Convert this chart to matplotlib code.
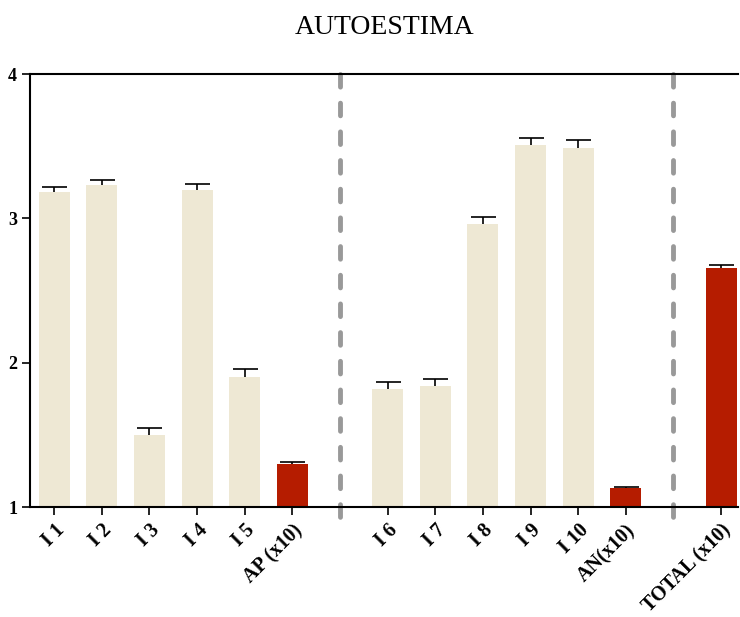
import matplotlib.pyplot as plt
import matplotlib.transforms as mtransforms
import numpy as np

labels = ["I 1", "I 2", "I 3", "I 4", "I 5", "AP (x10)",
          "I 6", "I 7", "I 8", "I 9", "I 10", "AN(x10)",
          "TOTAL (x10)"]
means = [3.18, 3.23, 1.50, 3.20, 1.90, 1.30,
         1.82, 1.84, 2.96, 3.51, 3.49, 1.13,
         2.66]
errs = [0.04, 0.035, 0.045, 0.04, 0.055, 0.01,
        0.05, 0.05, 0.05, 0.05, 0.05, 0.01,
        0.015]
positions = [0, 1, 2, 3, 4, 5, 7, 8, 9, 10, 11, 12, 14]
separators = [6, 13]

cream = "#EEE8D4"
red = "#B51C00"
colors = [red if "x10" in l else cream for l in labels]

plt.rcParams['font.family'] = ['Liberation Serif', 'DejaVu Serif']

fig = plt.figure(figsize=(7.4, 6.17), dpi=100)
ax = fig.add_axes([0.041, 0.178, 0.956, 0.702])

base = 1
heights = np.array(means) - base
ax.bar(positions, heights, bottom=base, width=0.65, color=colors, zorder=2)
# upper error bars only: hide the lower cap
eb = ax.errorbar(positions, means, yerr=[np.zeros(len(errs)), errs], fmt='none',
                 ecolor='black', elinewidth=1.2, capsize=9, capthick=1.2, zorder=3)
eb[1][0].set_visible(False)

# dashed group separators, running a little past the bottom spine
for s in separators:
    ax.plot([s, s], [4, 0.86], color='#999999', lw=3.5, ls=(0, (2.6, 3.3)),
            dash_capstyle='round', zorder=1, clip_on=False)

ax.set_xlim(-0.5, 14.35)
ax.set_ylim(1, 4)
ax.set_yticks([1, 2, 3, 4])
ax.set_yticklabels(["1", "2", "3", "4"], fontsize=13, fontweight='bold')
ax.set_xticks(positions)
ax.set_xticklabels(labels, rotation=45, ha='right', rotation_mode='anchor',
                   fontsize=14.5, fontweight='bold')
shift = mtransforms.ScaledTranslation(-4 / 72, -2 / 72, fig.dpi_scale_trans)
for t in ax.get_xticklabels():
    t.set_transform(t.get_transform() + shift)
ax.tick_params(axis='both', length=6, width=1.2, direction='out')

ax.spines['right'].set_visible(False)
for sp in ['left', 'bottom', 'top']:
    ax.spines[sp].set_linewidth(1.5)

fig.text(0.52, 0.955, "AUTOESTIMA", ha='center', va='center', fontsize=20)

fig.savefig("out.png", dpi=100)
